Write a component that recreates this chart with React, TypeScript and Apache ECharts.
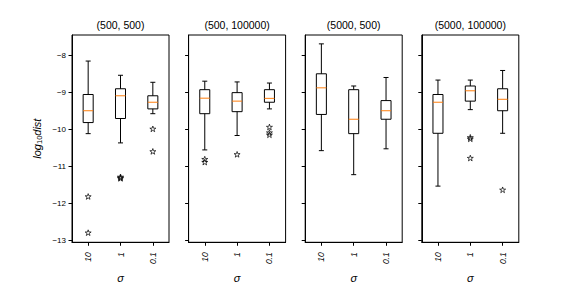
import React, { useEffect, useRef } from "react";
import * as echarts from "echarts";

// categories (sigma)
const categories = ["10", "1", "0.1"];
const panelTitles = ["(500, 500)", "(500, 100000)", "(5000, 500)", "(5000, 100000)"];
const yTicks = [-13, -12, -11, -10, -9, -8];

// box stats per category: [lowWhisker, q1, median, q3, highWhisker]
const box500_500 = [
  [-10.11, -9.81, -9.49, -9.05, -8.145],
  [-10.36, -9.7, -9.085, -8.895, -8.53],
  [-9.57, -9.44, -9.26, -9.085, -8.72],
];
const box500_100000 = [
  [-10.55, -9.57, -9.15, -8.92, -8.69],
  [-10.16, -9.515, -9.23, -9.0, -8.71],
  [-9.44, -9.26, -9.155, -8.92, -8.74],
];
const box5000_500 = [
  [-10.57, -9.59, -8.87, -8.49, -7.68],
  [-11.22, -10.11, -9.72, -8.92, -8.82],
  [-10.52, -9.72, -9.49, -9.215, -8.59],
];
const box5000_100000 = [
  [-11.53, -10.1, -9.26, -9.05, -8.66],
  [-9.46, -9.23, -8.95, -8.82, -8.66],
  [-10.1, -9.49, -9.18, -8.895, -8.4],
];

// outliers: [categoryIndex, value]
const out500_500 = [
  [0, -11.81], [0, -12.79],
  [1, -11.28], [1, -11.3], [1, -11.32],
  [2, -9.98], [2, -10.59],
];
const out500_100000 = [
  [0, -10.8], [0, -10.88],
  [1, -10.67],
  [2, -9.93], [2, -10.08], [2, -10.14],
];
const out5000_500: number[][] = [];
const out5000_100000 = [
  [1, -10.21], [1, -10.25], [1, -10.77],
  [2, -11.63],
];

const boxes = [box500_500, box500_100000, box5000_500, box5000_100000];
const outliers = [out500_500, out500_100000, out5000_500, out5000_100000];

const STAR =
  "path://M50,0 L61.23,34.55 L97.55,34.55 L68.16,55.9 L79.39,90.45 L50,69.1 L20.61,90.45 L31.84,55.9 L2.45,34.55 L38.77,34.55 Z";

const FONT = "Liberation Sans";

export default function App() {
  const ref = useRef<HTMLDivElement>(null);

  useEffect(() => {
    if (!ref.current) return;
    const chart = echarts.init(ref.current, undefined, { renderer: "svg" });

    const lefts = [72, 188.6, 305.2, 421.8];
    const width = 97;
    const top = 35;
    const height = 217;

    const grid = lefts.map((l) => ({
      left: l,
      top,
      width,
      height,
      show: true,
      borderColor: "#000",
      borderWidth: 1,
      backgroundColor: "transparent",
    }));

    const xAxis = lefts.map((_, i) => ({
      type: "category" as const,
      gridIndex: i,
      data: categories,
      boundaryGap: true,
      name: "σ",
      nameLocation: "middle" as const,
      nameGap: 27,
      nameTextStyle: { fontFamily: FONT, fontSize: 11, fontStyle: "italic", color: "#000" },
      axisLine: { show: true, lineStyle: { color: "#000", width: 1 } },
      axisTick: { show: true, alignWithLabel: true, length: 3.5, lineStyle: { color: "#000" } },
      axisLabel: {
        rotate: 90,
        margin: 10,
        fontFamily: FONT,
        fontSize: 8.5,
        fontStyle: "italic",
        color: "#000",
      },
      splitLine: { show: false },
    }));

    const yAxis = lefts.map((_, i) => ({
      type: "value" as const,
      gridIndex: i,
      min: -13.05,
      max: -7.44,
      name: i === 0 ? "{i|log}{s|10}{i|dist}" : "",
      nameLocation: "middle" as const,
      nameGap: 29,
      nameRotate: 90,
      nameTextStyle: {
        rich: {
          i: { fontFamily: FONT, fontSize: 11, fontStyle: "italic", color: "#000", lineHeight: 13, verticalAlign: "middle" },
          s: { fontFamily: FONT, fontSize: 7.5, color: "#000", lineHeight: 8, verticalAlign: "bottom" },
        },
      },
      axisLine: { show: true, lineStyle: { color: "#000", width: 1 } },
      axisTick: { show: true, length: 3.5, customValues: yTicks, lineStyle: { color: "#000" } },
      axisLabel: {
        show: i === 0,
        customValues: yTicks,
        margin: 6,
        fontFamily: FONT,
        fontSize: 8,
        color: "#000",
        formatter: (v: number) => String(v).replace("-", "\u2212"),
      },
      splitLine: { show: false },
    }));

    const series: any[] = [];
    boxes.forEach((b, i) => {
      series.push({
        type: "custom",
        xAxisIndex: i,
        yAxisIndex: i,
        encode: { x: 0, y: [1, 2, 3, 4, 5] },
        data: b.map((s, k) => [k, ...s]),
        renderItem: (params: any, api: any) => {
          const c = api.value(0);
          const low = api.coord([c, api.value(1)]);
          const q1 = api.coord([c, api.value(2)]);
          const med = api.coord([c, api.value(3)]);
          const q3 = api.coord([c, api.value(4)]);
          const high = api.coord([c, api.value(5)]);
          const band = api.size([1, 0])[0];
          const hw = band * 0.155;
          const cw = hw / 2;
          const cx = low[0];
          const st = { stroke: "#000", lineWidth: 1, fill: "none" };
          return {
            type: "group",
            children: [
              { type: "line", shape: { x1: cx, y1: high[1], x2: cx, y2: q3[1] }, style: st },
              { type: "line", shape: { x1: cx, y1: q1[1], x2: cx, y2: low[1] }, style: st },
              { type: "line", shape: { x1: cx - cw, y1: high[1], x2: cx + cw, y2: high[1] }, style: st },
              { type: "line", shape: { x1: cx - cw, y1: low[1], x2: cx + cw, y2: low[1] }, style: st },
              {
                type: "rect",
                shape: { x: cx - hw, y: q3[1], width: hw * 2, height: q1[1] - q3[1] },
                style: st,
              },
              {
                type: "line",
                shape: { x1: cx - hw, y1: med[1], x2: cx + hw, y2: med[1] },
                style: { stroke: "#ff7f0e", lineWidth: 1 },
              },
            ],
          };
        },
      });
      series.push({
        type: "scatter",
        xAxisIndex: i,
        yAxisIndex: i,
        data: outliers[i],
        symbol: STAR,
        symbolSize: 6,
        symbolKeepAspect: true,
        itemStyle: { color: "none", borderColor: "#000", borderWidth: 0.9 },
      });
    });

    const title = panelTitles.map((t, i) => ({
      text: t,
      left: lefts[i] + width / 2,
      top: 19.5,
      textAlign: "center" as const,
      textStyle: { fontFamily: FONT, fontSize: 10.5, fontWeight: "normal" as const, color: "#000" },
      padding: 0,
    }));

    chart.setOption({
      animation: false,
      backgroundColor: "#fff",
      title,
      grid,
      xAxis,
      yAxis,
      series,
    });

    return () => chart.dispose();
  }, []);

  return <div ref={ref} style={{ width: 576, height: 288, position: "absolute", left: 0, top: 0 }} />;
}
